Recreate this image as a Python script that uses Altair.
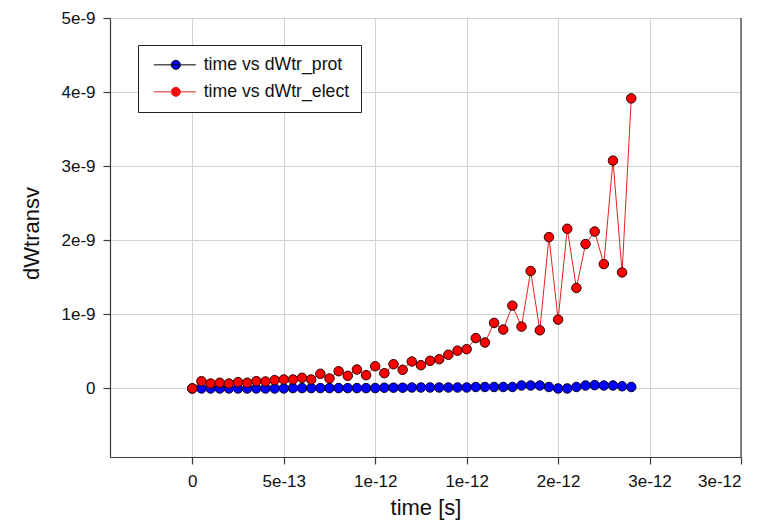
import altair as alt
import pandas as pd

# ---- data ----
time_s = [0.0, 5e-14, 1e-13, 1.5e-13, 2e-13, 2.5e-13, 3e-13, 3.5e-13, 4e-13, 4.5e-13,
          5e-13, 5.5e-13, 6e-13, 6.5e-13, 7e-13, 7.5e-13, 8e-13, 8.5e-13, 9e-13, 9.5e-13,
          1e-12, 1.05e-12, 1.1e-12, 1.15e-12, 1.2e-12, 1.25e-12, 1.3e-12, 1.35e-12, 1.4e-12, 1.45e-12,
          1.5e-12, 1.55e-12, 1.6e-12, 1.65e-12, 1.7e-12, 1.75e-12, 1.8e-12, 1.85e-12, 1.9e-12, 1.95e-12,
          2e-12, 2.05e-12, 2.1e-12, 2.15e-12, 2.2e-12, 2.25e-12, 2.3e-12, 2.35e-12, 2.4e-12]

dwtr_prot = [0.0, 0.0, 0.0, 0.0, 0.0, 0.0, 0.0, 0.0, 0.0, 0.0,
             0.0, 5e-12, 5e-12, 5e-12, 5e-12, 5e-12, 5e-12, 5e-12, 5e-12, 5e-12,
             5e-12, 1e-11, 1e-11, 1e-11, 1.3e-11, 1.3e-11, 1.3e-11, 1.3e-11, 1.3e-11, 1.3e-11,
             1.3e-11, 2e-11, 2e-11, 2e-11, 2e-11, 2e-11, 4e-11, 4e-11, 4e-11, 2e-11,
             0.0, 0.0, 2e-11, 4e-11, 4.5e-11, 4e-11, 4e-11, 3e-11, 2e-11]

dwtr_elect = [0.0, 9.8e-11, 6.7e-11, 7.7e-11, 6.7e-11, 8.5e-11, 7.7e-11, 9.8e-11, 9.4e-11, 1.12e-10,
              1.21e-10, 1.21e-10, 1.44e-10, 1.21e-10, 1.98e-10, 1.35e-10, 2.33e-10, 1.71e-10, 2.56e-10, 1.79e-10,
              3.0e-10, 2.06e-10, 3.27e-10, 2.52e-10, 3.64e-10, 3.14e-10, 3.73e-10, 3.95e-10, 4.55e-10, 5.1e-10,
              5.3e-10, 6.8e-10, 6.2e-10, 8.85e-10, 7.95e-10, 1.118e-9, 8.35e-10, 1.585e-9, 7.85e-10, 2.043e-9,
              9.29e-10, 2.155e-9, 1.356e-9, 1.949e-9, 2.118e-9, 1.679e-9, 3.075e-9, 1.566e-9, 3.915e-9]

series_names = ["time vs dWtr_prot", "time vs dWtr_elect"]

x_ticks = [0.0, 5e-13, 1e-12, 1.5e-12, 2e-12, 2.5e-12, 3e-12]
x_tick_labels = ["0", "5e-13", "1e-12", "1e-12", "2e-12", "3e-12", "3e-12"]
y_ticks = [0.0, 1e-9, 2e-9, 3e-9, 4e-9, 5e-9]
y_tick_labels = ["0", "1e-9", "2e-9", "3e-9", "4e-9", "5e-9"]
x_domain = [-4.5e-13, 3e-12]
y_domain = [-0.925e-9, 5e-9]

FONT = "Liberation Sans"
W, H = 631, 439


def label_expr(vals, labs, tol):
    expr = "''"
    for v, l in reversed(list(zip(vals, labs))):
        expr = f"abs(datum.value - ({v!r})) < {tol!r} ? '{l}' : ({expr})"
    return expr


df = pd.DataFrame({
    "time": time_s + time_s,
    "value": dwtr_prot + dwtr_elect,
    "series": [series_names[0]] * len(time_s) + [series_names[1]] * len(time_s),
})

axis_common = dict(
    labelFont=FONT, labelFontSize=17, labelColor="#111111",
    titleFont=FONT, titleFontSize=22, titleFontWeight="normal", titleColor="#111111",
    domainColor="#3a3a3a", domainWidth=1.2, tickColor="#3a3a3a", tickWidth=1.2, tickSize=7,
    gridColor="#d2d2d2", gridWidth=1, grid=True,
)

x_enc = alt.X("time:Q",
              scale=alt.Scale(domain=x_domain, nice=False, zero=False),
              axis=alt.Axis(values=x_ticks, labelExpr=label_expr(x_ticks, x_tick_labels, 1e-14),
                            title="time [s]", labelPadding=9, titlePadding=8, **axis_common))
y_enc = alt.Y("value:Q",
              scale=alt.Scale(domain=y_domain, nice=False, zero=False),
              axis=alt.Axis(values=y_ticks, labelExpr=label_expr(y_ticks, y_tick_labels, 1e-11),
                            title="dWtransv", labelPadding=8, titleX=-67, titleY=215, **axis_common))

sym_path = "M0,0H8.4M5.3,0A0.9,0.9,0,1,1,3.5,0A0.9,0.9,0,1,1,5.3,0Z"
legend_spec = alt.Legend(
    title=None, orient="none", legendX=28, legendY=27,
    symbolType=sym_path, symbolSize=100, symbolStrokeWidth=1, symbolOffset=-4,
    labelFont=FONT, labelFontSize=17.7, labelColor="#111111", labelOffset=41, labelLimit=400,
    padding=11, rowPadding=8, strokeColor="#222222", fillColor="white",
)

stroke_scale = alt.Scale(domain=series_names, range=["#000000", "#e62020"])
fill_scale = alt.Scale(domain=series_names, range=["#0000ff", "#ff0000"])

base = alt.Chart(df).encode(x=x_enc, y=y_enc)

line_prot = base.transform_filter(alt.datum.series == series_names[0]).mark_line(strokeWidth=1).encode(
    stroke=alt.Stroke("series:N", scale=stroke_scale, legend=legend_spec))
pts_prot = base.transform_filter(alt.datum.series == series_names[0]).mark_circle(
    size=90, stroke="#000022", strokeWidth=1, opacity=1).encode(
    fill=alt.Fill("series:N", scale=fill_scale, legend=legend_spec))
line_elect = base.transform_filter(alt.datum.series == series_names[1]).mark_line(strokeWidth=1).encode(
    stroke=alt.Stroke("series:N", scale=stroke_scale, legend=legend_spec))
pts_elect = base.transform_filter(alt.datum.series == series_names[1]).mark_circle(
    size=90, stroke="#2a0000", strokeWidth=1, opacity=1).encode(
    fill=alt.Fill("series:N", scale=fill_scale, legend=legend_spec))

right_border = alt.Chart(pd.DataFrame({"xr": [x_domain[1]]})).mark_rule(
    color="#3a3a3a", strokeWidth=1.2).encode(
    x=alt.X("xr:Q"), y=alt.value(0), y2=alt.value(H))

chart = alt.layer(line_prot, pts_prot, line_elect, pts_elect, right_border).properties(
    width=W, height=H,
    padding={"left": 110, "top": 18, "right": 31, "bottom": 71},
    autosize="none",
    background="white",
).configure_view(stroke=None)

chart.save("out.html", embed_options={"renderer": "svg", "actions": False})
